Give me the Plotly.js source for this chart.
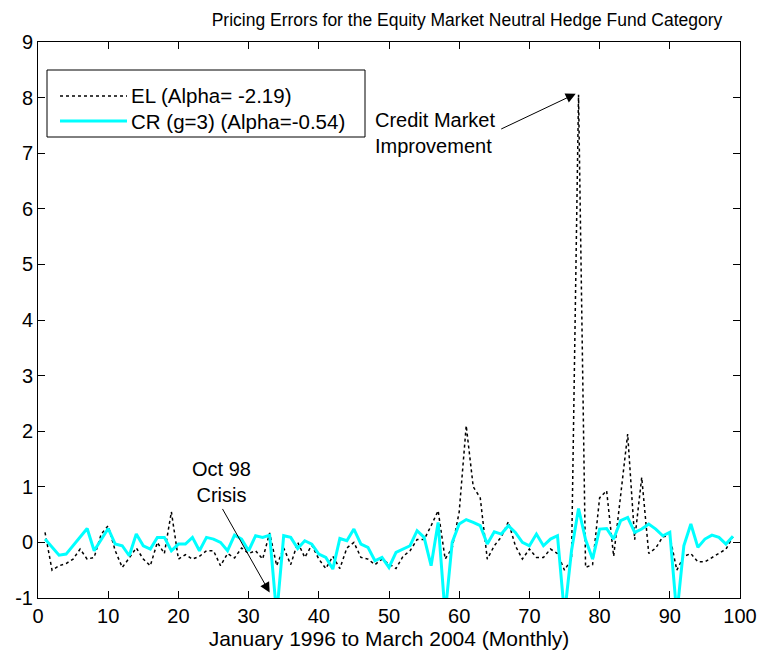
<!DOCTYPE html>
<html>
<head>
<meta charset="utf-8">
<script src="https://cdn.plot.ly/plotly-3.0.1.min.js"></script>
<style>html,body{margin:0;padding:0;background:#fff;}#chart{width:759px;height:657px;}</style>
</head>
<body>
<div id="chart"></div>
<script>
// Month index 1..99 (January 1996 to March 2004)
const months = Array.from({length: 99}, (_, i) => i + 1);

// EL pricing errors (dotted black)
const elValues = [
  0.18, -0.50, -0.42, -0.38, -0.30, -0.12, -0.30, -0.27, 0.15, 0.30,
  -0.15, -0.45, -0.28, -0.10, -0.30, -0.42, 0.00, -0.20, 0.55, -0.30,
  -0.22, -0.30, -0.25, -0.15, -0.15, -0.42, -0.20, -0.28, -0.10, -0.20,
  -0.15, -0.30, 0.17, -0.42, -0.10, -0.40, 0.00, -0.27, -0.05, -0.30,
  -0.47, -0.25, -0.47, -0.10, 0.00, -0.27, -0.30, -0.40, -0.30, -0.38,
  -0.47, -0.25, -0.15, 0.05, 0.05, 0.30, 0.57, -0.30, -0.10, 0.55,
  2.10, 1.00, 0.80, -0.30, -0.06, 0.10, 0.37, -0.06, -0.30, -0.12,
  -0.27, -0.27, -0.12, -0.20, -0.50, -0.30, 8.05, -0.45, -0.40, 0.80,
  0.93, -0.25, 0.80, 1.95, 0.05, 1.17, -0.20, -0.10, 0.10, 0.12,
  -0.50, -0.25, -0.20, -0.35, -0.35, -0.27, -0.20, -0.12, 0.10
];

// CR (g=3) pricing errors (solid cyan)
const crValues = [
  0.06, -0.09, -0.23, -0.21, -0.06, 0.09, 0.25, -0.15, 0.06, 0.25,
  -0.03, -0.06, -0.24, 0.15, -0.06, -0.12, 0.09, 0.09, -0.15, -0.03,
  -0.03, 0.09, -0.15, 0.09, 0.06, 0.00, -0.15, 0.13, 0.06, -0.15,
  0.12, 0.09, 0.13, -1.30, 0.12, 0.09, -0.11, 0.03, -0.03, -0.21,
  -0.27, -0.48, 0.07, 0.03, 0.24, -0.03, -0.09, -0.33, -0.27, -0.45,
  -0.18, -0.12, -0.06, 0.21, 0.09, -0.42, 0.36, -1.30, 0.00, 0.33,
  0.41, 0.36, 0.30, -0.03, 0.19, 0.15, 0.30, 0.18, 0.00, -0.06,
  0.15, -0.06, 0.06, 0.12, -1.30, -0.15, 0.61, 0.05, -0.30, 0.24,
  0.25, 0.06, 0.39, 0.45, 0.18, 0.24, 0.33, 0.24, 0.12, 0.18,
  -1.30, -0.06, 0.33, -0.09, 0.06, 0.13, 0.09, -0.03, 0.11
];

const xTicks = [0, 10, 20, 30, 40, 50, 60, 70, 80, 90, 100];
const yTicks = [-1, 0, 1, 2, 3, 4, 5, 6, 7, 8, 9];
const legendLabels = ['EL (Alpha= -2.19)', 'CR (g=3) (Alpha=-0.54)'];

const FONT = 'Liberation Sans, Arial, sans-serif';
const FS = 20;

const traces = [
  {x: months, y: elValues, type: 'scatter', mode: 'lines', name: legendLabels[0],
   line: {color: '#000000', width: 1.5, dash: 'dot'}, showlegend: false},
  {x: months, y: crValues, type: 'scatter', mode: 'lines', name: legendLabels[1],
   line: {color: '#00FFFF', width: 3}, showlegend: false}
];

// legend box in paper coordinates (plot area: x 38..740, y 42..598 px)
const px = v => (v - 38) / 702;
const py = v => (598 - v) / 556;

const layout = {
  width: 759, height: 657,
  margin: {l: 38, r: 19, t: 42, b: 59},
  paper_bgcolor: '#ffffff', plot_bgcolor: '#ffffff',
  font: {family: FONT, size: FS, color: '#000000'},
  title: {text: 'Pricing Errors for the Equity Market Neutral Hedge Fund Category',
          x: px(467), xref: 'paper', xanchor: 'center',
          y: 1 - 19.5 / 657, yref: 'container', yanchor: 'middle',
          font: {family: FONT, size: 17.5, color: '#000000'}},
  xaxis: {range: [0, 100], tickvals: xTicks, ticktext: xTicks.map(String),
          ticks: 'inside', ticklen: 7, tickcolor: '#000', mirror: 'ticks',
          showline: true, linecolor: '#000', linewidth: 1, showgrid: false, zeroline: false,
          tickfont: {family: FONT, size: FS},
          title: {text: 'January 1996 to March 2004 (Monthly)', standoff: 2,
                  font: {family: FONT, size: 21}}},
  yaxis: {range: [-1, 9], tickvals: yTicks, ticktext: yTicks.map(String),
          ticks: 'inside', ticklen: 7, tickcolor: '#000', mirror: 'ticks',
          showline: true, linecolor: '#000', linewidth: 1, showgrid: false, zeroline: false,
          tickfont: {family: FONT, size: FS}},
  shapes: [
    {type: 'rect', xref: 'paper', yref: 'paper', x0: px(47), x1: px(365), y0: py(137), y1: py(70),
     line: {color: '#000', width: 1}, fillcolor: '#ffffff', layer: 'above'},
    {type: 'line', xref: 'paper', yref: 'paper', x0: px(60), x1: px(127), y0: py(96), y1: py(96),
     line: {color: '#000', width: 1.5, dash: 'dot'}},
    {type: 'line', xref: 'paper', yref: 'paper', x0: px(60), x1: px(127), y0: py(121), y1: py(121),
     line: {color: '#00FFFF', width: 3}}
  ],
  annotations: [
    {xref: 'paper', yref: 'paper', x: px(129), y: py(96), xanchor: 'left', yanchor: 'middle',
     text: legendLabels[0], showarrow: false, font: {family: FONT, size: 20.5}},
    {xref: 'paper', yref: 'paper', x: px(129), y: py(121), xanchor: 'left', yanchor: 'middle',
     text: legendLabels[1], showarrow: false, font: {family: FONT, size: 20.5}},
    {x: 47.7, y: 7.37, xref: 'x', yref: 'y', xanchor: 'left', yanchor: 'middle', align: 'left',
     text: 'Credit Market<br>Improvement', showarrow: false, font: {family: FONT, size: FS}},
    {x: 76.6, y: 8.07, xref: 'x', yref: 'y', text: '', showarrow: true,
     ax: -76, ay: 36, arrowhead: 2, arrowsize: 2, arrowwidth: 1, arrowcolor: '#000'},
    {x: 26.2, y: 1.08, xref: 'x', yref: 'y', xanchor: 'center', yanchor: 'middle', align: 'center',
     text: 'Oct 98<br>Crisis', showarrow: false, font: {family: FONT, size: FS}},
    {x: 33.0, y: -0.9, xref: 'x', yref: 'y', text: '', showarrow: true,
     ax: -48, ay: -85, arrowhead: 2, arrowsize: 2, arrowwidth: 1, arrowcolor: '#000'}
  ]
};

Plotly.newPlot('chart', traces, layout, {displayModeBar: false, staticPlot: true});
</script>
</body>
</html>
